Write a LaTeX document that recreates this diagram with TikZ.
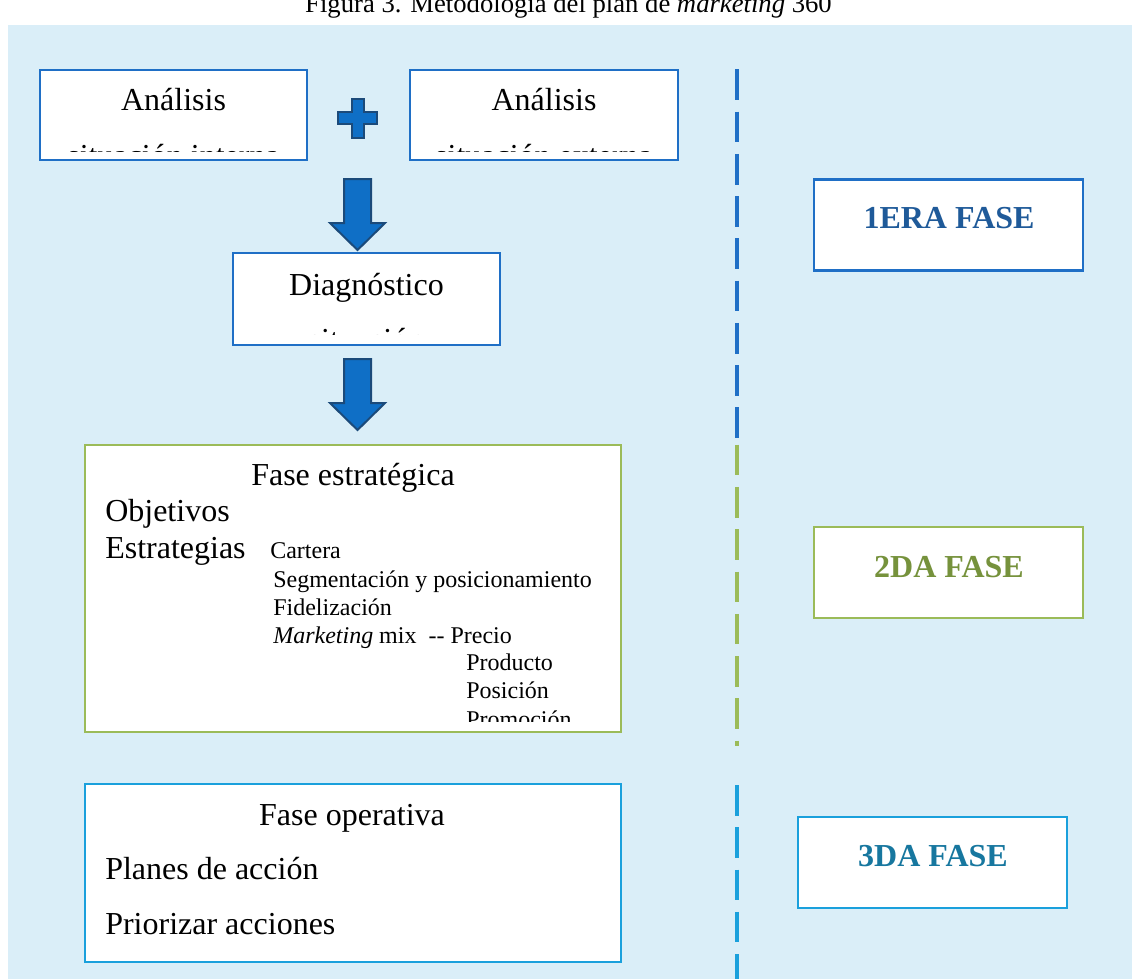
\documentclass[tikz,border=0pt]{standalone}
\usepackage{fontspec}
\setmainfont{Liberation Serif}
\usetikzlibrary{positioning}
\definecolor{bgblue}{HTML}{DAEEF8}
\definecolor{boxblue}{HTML}{1F6FC6}
\definecolor{boxgreen}{HTML}{9BBB59}
\definecolor{boxcyan}{HTML}{1AA0DC}
\definecolor{textblue}{HTML}{1F5A99}
\definecolor{textgreen}{HTML}{76923C}
\definecolor{textcyan}{HTML}{17779F}
\definecolor{arrowblue}{HTML}{0F6FC6}
\definecolor{arrowdark}{HTML}{1B4A7A}
\tikzstyle{panel}=[draw,fill=white,line width=1.9pt,inner sep=0pt,outer sep=0pt]
\tikzstyle{bigtext}=[font=\fontsize{24}{28}\selectfont,inner sep=0pt]
\tikzstyle{smalltext}=[font=\fontsize{18}{21}\selectfont,inner sep=0pt,anchor=base west]
\tikzstyle{phasetext}=[font=\fontsize{24}{28}\selectfont\bfseries,inner sep=0pt,anchor=base]
\tikzstyle{blockarrow}=[fill=arrowblue,draw=arrowdark,line width=1.5pt,line join=miter]
\tikzstyle{phaseline}=[line width=2.5pt,dash pattern=on 23pt off 8.7pt]

\begin{document}
\begin{tikzpicture}[x=0.75pt,y=-0.75pt]
\useasboundingbox (0,0) rectangle (1132,979);
\fill[bgblue] (8,25) rectangle (1132,979);

%caption
\node[font=\fontsize{20}{24}\selectfont,anchor=base,inner sep=0pt] (caption) at (568.5,12) {Figura 3. Metodología del plan de \textit{marketing} 360};

%boxes
  \foreach \name/\cx/\cy/\w/\h/\col in {intA/173.5/115/267/90/boxblue, extA/544/115/268/90/boxblue, diag/366.5/299/267/92/boxblue, estr/353/588.5/536/287/boxgreen, oper/353/873/536/178/boxcyan, faseA/948.5/225/269/91/boxblue, faseB/948.5/572.5/269/91/boxgreen, faseC/932.5/862.5/269/91/boxcyan}
        \node[panel,draw=\col,minimum width=\w*0.75pt,minimum height=\h*0.75pt] (\name) at (\cx,\cy) {};

%analysis and diagnosis
\node[bigtext,anchor=base] (intAtitle) at (173.5,110) {Análisis};
\node[bigtext,anchor=base] (extAtitle) at (544,110) {Análisis};
\node[bigtext,anchor=base] (diagtitle) at (366.5,295) {Diagnóstico};
\begin{scope}
  \clip (40,70) rectangle (678,151);
  \node[bigtext,anchor=base] (intAsub) at (173.5,166) {situación interna};
  \node[bigtext,anchor=base] (extAsub) at (544,166) {situación externa};
\end{scope}
\begin{scope}
  \clip (233,253) rectangle (500,334);
  \node[bigtext,anchor=base] (diagsub) at (366.5,350) {situación};
\end{scope}

%plus and arrows
\draw[blockarrow] (351.5,98.5) -- (363.5,98.5) -- (363.5,112) -- (377,112) -- (377,124) -- (363.5,124) -- (363.5,137.5) -- (351.5,137.5) -- (351.5,124) -- (338,124) -- (338,112) -- (351.5,112) -- cycle;
  \foreach \ytop/\yneck/\ytip in {179/223/250, 359/403/430}
        \draw[blockarrow] (344,\ytop) -- (371,\ytop) -- (371,\yneck) -- (385,\yneck) -- (357.5,\ytip) -- (330,\yneck) -- (344,\yneck) -- cycle;

%strategic phase
\node[bigtext,anchor=base] (estrtitle) at (353,485) {Fase estratégica};
\node[bigtext,anchor=base west] (objetivos) at (105,521) {Objetivos};
\node[bigtext,anchor=base west] (estrategias) at (105,558) {Estrategias};
  \foreach \name/\xx/\yy/\txt in {cartera/270/558/Cartera, segm/273/587/{Segmentación y posicionamiento}, fideli/273/615/Fidelización, mix/273/643/{\textit{Marketing} mix\ \ -{}- Precio}, producto/466/670.5/Producto, posicion/466/698/Posición}
        \node[smalltext] (\name) at (\xx,\yy) {\txt};
\begin{scope}
  \clip (85,445) rectangle (621,721.5);
  \node[smalltext] (promocion) at (466,727) {Promoción};
\end{scope}

%operative phase
\node[bigtext,anchor=base] (opertitle) at (352,825) {Fase operativa};
\node[bigtext,anchor=base west] (planes) at (105,879) {Planes de acción};
\node[bigtext,anchor=base west] (priorizar) at (105,934) {Priorizar acciones};

%phase separator
\draw[phaseline,draw=boxblue] (737,69.3) -- (737,438.4);
\draw[phaseline,draw=boxgreen] (737,444.7) -- (737,745.7);
\draw[phaseline,draw=boxcyan] (737,785) -- (737,979);

%phase labels
\node[phasetext,text=textblue] (faseAlabel) at (949,228) {1ERA FASE};
\node[phasetext,text=textgreen] (faseBlabel) at (949,577) {2DA FASE};
\node[phasetext,text=textcyan] (faseClabel) at (933,866) {3DA FASE};

\end{tikzpicture}
\end{document}
